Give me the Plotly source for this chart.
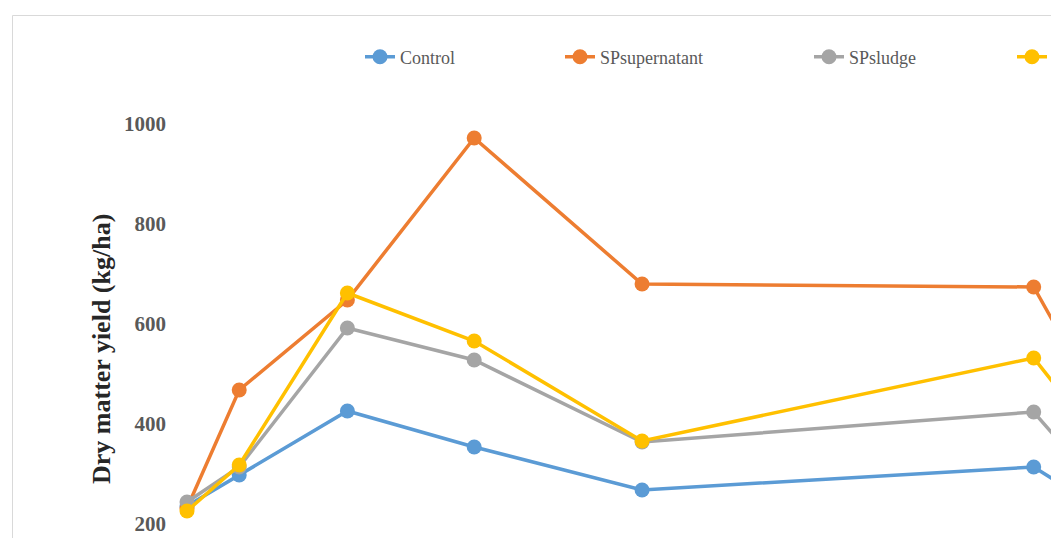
import plotly.graph_objects as go

# x positions (estimated, arbitrary time unit read from spacing)
x_vals = [0, 14, 43, 77, 122, 227, 241]
series_names = ["Control", "SPsupernatant", "SPsludge", "SPmix"]
control = [236, 298, 426, 354, 268, 314, 248]
sp_supernatant = [232, 468, 648, 972, 680, 674, 488]
sp_sludge = [244, 314, 592, 528, 364, 424, 304]
sp_mix = [226, 318, 662, 566, 366, 532, 400]
y_ticks = [200, 400, 600, 800, 1000]

colors = ["#5B9BD5", "#ED7D31", "#A5A5A5", "#FFC000"]
all_series = [control, sp_supernatant, sp_sludge, sp_mix]

W, H = 1051, 538
L = 170
PW = W - L
legend_px = [360, 560, 809, 1012]
legend_ids = ["legend", "legend2", "legend3", "legend4"]

fig = go.Figure()
for name, ys, c, lid in zip(series_names, all_series, colors, legend_ids):
    fig.add_trace(go.Scatter(
        x=x_vals, y=ys, name=name, mode="lines+markers",
        line=dict(color=c, width=3.5),
        marker=dict(color=c, size=15),
        legend=lid,
    ))

px_per_unit = 3.73
x0_px = 187
xr = [(L - x0_px) / px_per_unit, (W - x0_px) / px_per_unit]
yr = [1000 - (H - 124) * 2, 1000 + 124 * 2]

layout = dict(
    width=W, height=H,
    margin=dict(l=L, r=0, t=0, b=0, autoexpand=False),
    paper_bgcolor="white", plot_bgcolor="white",
    showlegend=True,
    xaxis=dict(range=xr, visible=False),
    yaxis=dict(range=yr, tickvals=y_ticks, showgrid=False, zeroline=False,
               showline=False, ticks="", ticklabelstandoff=3,
               tickfont=dict(family="Liberation Serif", size=21, color="#595959", weight="bold")),
    shapes=[dict(type="rect", xref="paper", yref="paper",
                 x0=(12.5 - L) / PW, x1=1.2, y0=-0.2, y1=1 - 15.5 / H,
                 line=dict(color="#D9D9D9", width=1), fillcolor="rgba(0,0,0,0)", layer="below")],
    annotations=[dict(text="<b>Dry matter yield (kg/ha)</b>", textangle=-90,
                      xref="paper", yref="paper",
                      x=(101 - L) / PW, y=1 - 349 / H,
                      xanchor="center", yanchor="middle", showarrow=False,
                      font=dict(family="Liberation Serif", size=26, color="#262626"))],
)
for lid, px in zip(legend_ids, legend_px):
    layout[lid] = dict(orientation="h", xref="paper", yref="paper",
                       x=(px - L) / PW, y=1 - 57 / H, xanchor="left", yanchor="middle",
                       bgcolor="rgba(0,0,0,0)",
                       font=dict(family="Liberation Serif", size=18, color="#595959"))
fig.update_layout(**layout)
fig.write_html("out.html")
